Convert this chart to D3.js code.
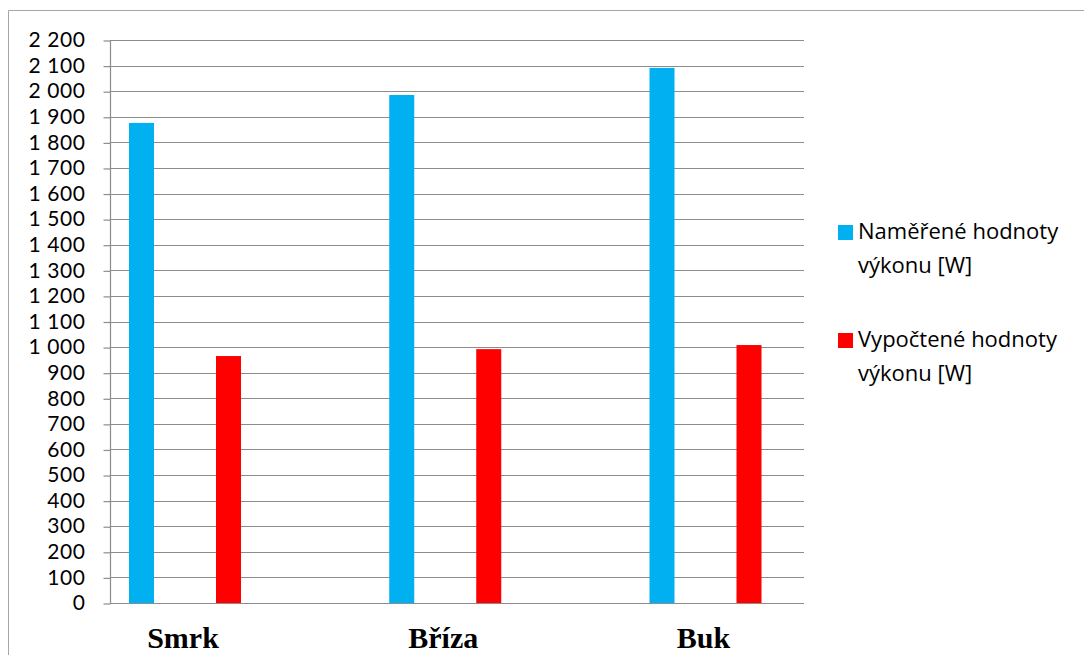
<!DOCTYPE html>
<html>
<head>
<meta charset="utf-8">
<script src="https://cdn.jsdelivr.net/npm/d3@7"></script>
<style>
  body { margin: 0; background: #fff; }
  svg { display: block; }
  .tick text { font-family: Lato, "Open Sans", sans-serif; font-size: 21px; letter-spacing: 0.6px; fill: #000; }
  .cat { font-family: "Liberation Serif", "Times New Roman", serif; font-weight: bold; font-size: 30px; }
  .leg { font-family: "Open Sans", Lato, sans-serif; font-size: 22px; }
</style>
</head>
<body>
<svg width="1084" height="655"></svg>
<script>
// data
var categories = ["Smrk", "Bříza", "Buk"],
	seriesNames = ["Naměřené hodnoty výkonu [W]", "Vypočtené hodnoty výkonu [W]"],
	legendLines = [["Naměřené hodnoty", "výkonu [W]"], ["Vypočtené hodnoty", "výkonu [W]"]],
	measured = [1876, 1985, 2091],
	computed = [965, 992, 1008],
	yTicks = d3.range(0, 2201, 100),
	colors = ["#00B0F0", "#FF0000"];

var svg = d3.select("svg");

// frame of the chart
svg.append("path")
	.attr("d", "M8.5,655 V10.5 H1084")
	.attr("fill", "none").attr("stroke", "#a6a6a6");

var y = d3.scaleLinear().domain([0, 2200]).range([603, 40]),
	x0 = d3.scalePoint().domain(categories).range([185, 705.5]),
	x1 = d3.scaleBand().domain(seriesNames).range([-87, 87]),
	barW = 25;

// grid lines
svg.append("g").selectAll("line").data(yTicks).join("line")
	.attr("x1", 110).attr("x2", 804)
	.attr("y1", d => Math.round(y(d)) + 0.5).attr("y2", d => Math.round(y(d)) + 0.5)
	.attr("stroke", "#8c8c8c").attr("stroke-width", 1.2);

// y axis
var fmt = d => d3.format(",")(d).replace(/,/g, " ");
var yAxis = svg.append("g").attr("transform", "translate(110.5,0)")
	.call(d3.axisLeft(y).tickValues(yTicks).tickFormat(fmt).tickSize(7).tickPadding(18));
yAxis.selectAll("line, path").attr("stroke", "#8c8c8c").attr("stroke-width", 1.2);
yAxis.select(".domain").attr("d", "M0," + y(2200) + "V" + y(0));
yAxis.selectAll(".tick line").attr("transform", "translate(0,0.5)");

// bars
var rows = categories.map((c, i) => [measured[i], computed[i]]);
svg.append("g").selectAll("g").data(rows).join("g")
	.attr("transform", (d, i) => "translate(" + x0(categories[i]) + ",0)")
	.selectAll("rect").data(d => d.map((v, j) => ({ s: seriesNames[j], v: v, j: j }))).join("rect")
	.attr("x", d => x1(d.s) + (x1.bandwidth() - barW) / 2)
	.attr("width", barW)
	.attr("y", d => y(d.v))
	.attr("height", d => y(0) - y(d.v))
	.attr("fill", d => colors[d.j]);

// category labels
svg.append("g").selectAll("text").data(categories).join("text")
	.attr("class", "cat")
	.attr("x", d => x0(d) - 2).attr("y", 648)
	.attr("text-anchor", "middle")
	.text(d => d);

// legend
var leg = svg.append("g").selectAll("g").data(legendLines).join("g")
	.attr("transform", (d, i) => "translate(838," + (225 + i * 108) + ")");
leg.append("rect").attr("width", 15).attr("height", 15).attr("fill", (d, i) => colors[i]);
leg.append("text").attr("class", "leg")
	.selectAll("tspan").data(d => d).join("tspan")
	.attr("x", 20).attr("y", (d, k) => 14 + k * 34)
	.text(d => d);
</script>
</body>
</html>
